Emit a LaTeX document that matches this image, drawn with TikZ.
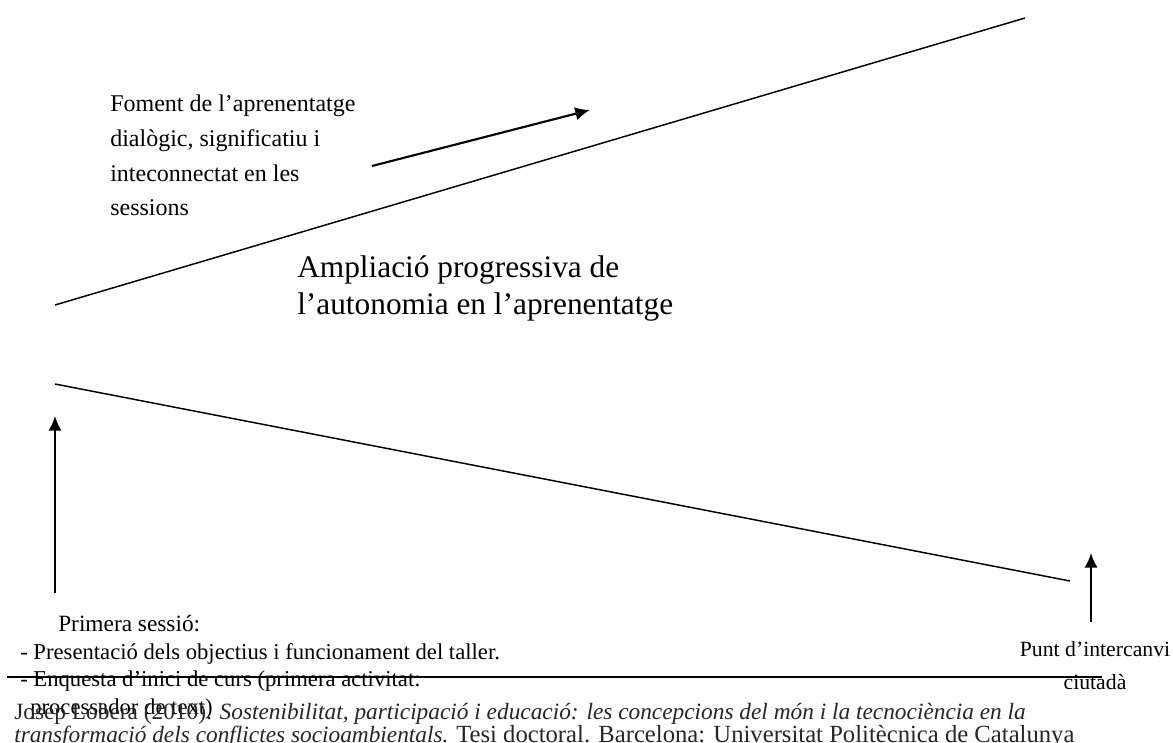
\documentclass[tikz,border=0pt]{standalone}
\usepackage{fontspec}
\setmainfont{Liberation Serif}
\usetikzlibrary{arrows.meta}
\tikzset{>={Latex[length=11pt,width=10pt]}}
\colorlet{mygray}{black!85}
\tikzstyle{edge line}=[black,line width=1.1pt]
\tikzstyle{push arrow}=[->,black,line width=1.6pt]
\tikzstyle{label text}=[inner sep=0pt,align=left,anchor=north west]

\begin{document}
\begin{tikzpicture}[x=0.75pt,y=-0.75pt]
  \useasboundingbox (0,0) rectangle (1173,742);

  % FUNNEL
  \coordinate (UL) at (55,305);
  \coordinate (UR) at (1025,18);
  \coordinate (LL) at (55,384);
  \coordinate (LR) at (1070,581);
  \draw[edge line] (UL) -- (UR);
  \draw[edge line] (LL) -- (LR);

  % ARROWS
  \coordinate (A0) at (372,166);
  \coordinate (A1) at (590,110);
  \coordinate (B0) at (55,593);
  \coordinate (B1) at (55,416);
  \coordinate (C0) at (1091,622);
  \coordinate (C1) at (1091,553);
  \draw[push arrow] (A0) -- (A1);
  \draw[push arrow] (B0) -- (B1);
  \draw[push arrow] (C0) -- (C1);

  % TEXTS
  \node[label text,font=\fontsize{18}{26}\selectfont] (foment) at (110,95)
    {Foment de l’aprenentatge\\dialògic, significatiu i\\inteconnectat en les\\sessions};
  \node[label text,font=\fontsize{23.5}{28}\selectfont] (ampliacio) at (297,255)
    {Ampliació progressiva de\\l’autonomia en l’aprenentatge};
  \node[label text,font=\fontsize{17.5}{20}\selectfont] (primera) at (58,615)
    {Primera sessió:};
  \node[label text,font=\fontsize{17}{20.6}\selectfont] (sessio) at (20,643)
    {- Presentació dels objectius i funcionament del taller.\\- Enquesta d’inici de curs (primera activitat:\\\hspace*{7.5pt}processador de text)};
  \node[label text,anchor=north,align=center,font=\fontsize{16.3}{25}\selectfont] (punt) at (1095,641)
    {Punt d’intercanvi\\ciutadà};

  % FOOTER
  \coordinate (R0) at (7,677);
  \coordinate (R1) at (1102,677);
  \draw[black,line width=1.5pt] (R0) -- (R1);
  \node[label text,text=mygray,font=\fontsize{17.5}{16}\selectfont] (peu) at (14,703)
    {Josep Lobera (2010). \textit{Sostenibilitat, participació i educació: les concepcions del món i la tecnociència en la}\\
     \textit{transformació dels conflictes socioambientals.} {\fontsize{18.5}{16}\selectfont Tesi doctoral. Barcelona: Universitat Politècnica de Catalunya}};

\end{tikzpicture}
\end{document}
